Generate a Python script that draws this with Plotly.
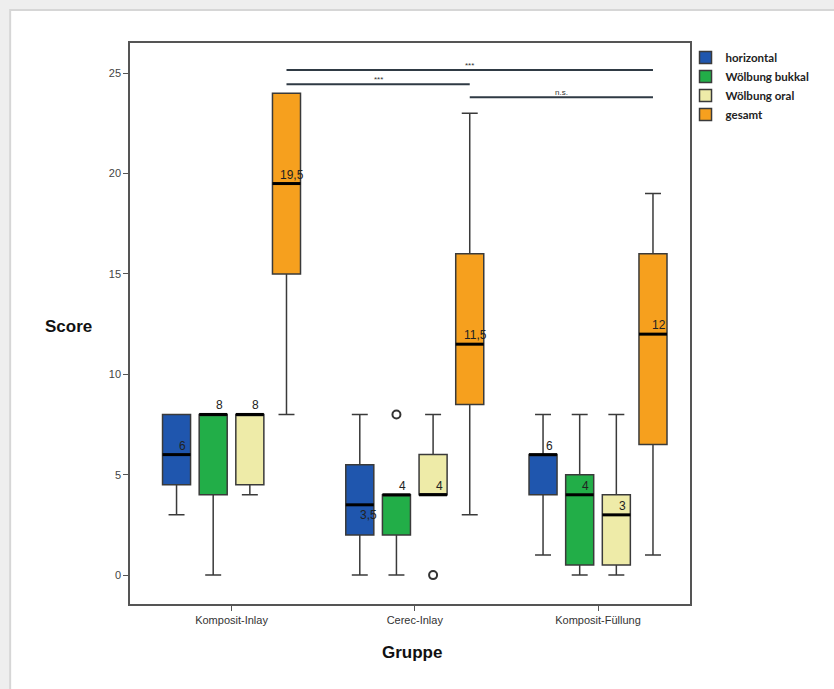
import plotly.graph_objects as go

# ---------------- data ----------------
groups = ["Komposit-Inlay", "Cerec-Inlay", "Komposit-Füllung"]
series = ["horizontal", "Wölbung bukkal", "Wölbung oral", "gesamt"]

lower = {
    "horizontal":     [3, 0, 1],
    "Wölbung bukkal": [0, 0, 0],
    "Wölbung oral":   [4, 4, 0],
    "gesamt":         [8, 3, 1],
}
q1 = {
    "horizontal":     [4.5, 2, 4],
    "Wölbung bukkal": [4, 2, 0.5],
    "Wölbung oral":   [4.5, 4, 0.5],
    "gesamt":         [15, 8.5, 6.5],
}
median = {
    "horizontal":     [6, 3.5, 6],
    "Wölbung bukkal": [8, 4, 4],
    "Wölbung oral":   [8, 4, 3],
    "gesamt":         [19.5, 11.5, 12],
}
q3 = {
    "horizontal":     [8, 5.5, 6],
    "Wölbung bukkal": [8, 4, 5],
    "Wölbung oral":   [8, 6, 4],
    "gesamt":         [24, 16, 16],
}
upper = {
    "horizontal":     [8, 8, 8],
    "Wölbung bukkal": [8, 4, 8],
    "Wölbung oral":   [8, 8, 8],
    "gesamt":         [24, 23, 19],
}
# outliers: (series, group index, value)
outliers = [("Wölbung bukkal", 1, 8), ("Wölbung oral", 1, 0)]

# significance brackets between "gesamt" boxes: (group a, group b, y, label)
significance = [(0, 2, 25.15, "***"), (0, 1, 24.45, "***"), (1, 2, 23.8, "n.s.")]

y_ticks = [0, 5, 10, 15, 20, 25]

# ---------------- styles ----------------
colors = {
    "horizontal": "#1F56AE",
    "Wölbung bukkal": "#22AE48",
    "Wölbung oral": "#EEEBA8",
    "gesamt": "#F6A01E",
}
offsets = [-0.3, -0.1, 0.1, 0.3]
box_w = 0.153
outline = "#3a3a3a"
ink = "#333333"


def fmt(v):
    return str(int(v)) if float(v).is_integer() else str(v).replace(".", ",")


fig = go.Figure()
shapes = []
annotations = []

for s, off in zip(series, offsets):
    xs = [j + off for j in range(len(groups))]
    fig.add_trace(go.Box(
        name=f"<b>{s}</b>",
        x=xs, q1=q1[s], median=median[s], q3=q3[s],
        lowerfence=lower[s], upperfence=upper[s],
        orientation="v", width=box_w, whiskerwidth=0.57,
        fillcolor=colors[s], line=dict(color=outline, width=1.5),
        boxpoints=False, hoverinfo="skip",
    ))
    for j, x in enumerate(xs):
        m = median[s][j]
        shapes.append(dict(type="line", xref="x", yref="y",
                           x0=x - box_w / 2, x1=x + box_w / 2, y0=m, y1=m,
                           line=dict(color="black", width=3), layer="above"))
        below = (s == "horizontal" and j == 1)
        annotations.append(dict(
            x=x, y=m, xref="x", yref="y", text=fmt(m), showarrow=False,
            xanchor="center", yanchor="top" if below else "bottom",
            xshift=9 if below else 6, yshift=-1 if below else 0,
            font=dict(family="Liberation Sans, Arial", size=12, color="#222"),
        ))

# outliers
fig.add_trace(go.Scatter(
    x=[g + offsets[series.index(s)] for s, g, v in outliers],
    y=[v for s, g, v in outliers],
    mode="markers", showlegend=False, hoverinfo="skip",
    marker=dict(symbol="circle-open", size=8, color=ink, line=dict(width=2, color=ink)),
))

# significance brackets
g_off = offsets[series.index("gesamt")]
for a, b, yv, lab in significance:
    x0, x1 = a + g_off, b + g_off
    shapes.append(dict(type="line", xref="x", yref="y", x0=x0, x1=x1, y0=yv, y1=yv,
                       line=dict(color="#2f3a44", width=2)))
    annotations.append(dict(x=(x0 + x1) / 2, y=yv, xref="x", yref="y", text=lab,
                            showarrow=False, yanchor="bottom", yshift=-2,
                            font=dict(family="Liberation Sans, Arial", size=8, color="#333")))

# page panel (white card on light gray)
shapes.insert(0, dict(type="rect", xref="paper", yref="paper",
                      x0=-0.214, x1=1.3, y0=-0.2, y1=1.059,
                      fillcolor="white", line=dict(color="#d6d6d6", width=2), layer="below"))

annotations.append(dict(x=-0.109, y=0.494, xref="paper", yref="paper", text="<b>Score</b>",
                        xanchor="center", yanchor="middle", showarrow=False,
                        font=dict(family="Liberation Sans, Arial", size=17, color="#111")))
annotations.append(dict(x=0.504, y=-0.086, xref="paper", yref="paper", text="<b>Gruppe</b>",
                        xanchor="center", yanchor="middle", showarrow=False,
                        font=dict(family="Liberation Sans, Arial", size=17, color="#111")))

fig.update_layout(
    width=834, height=689,
    margin=dict(l=130, r=144, t=43, b=85),
    paper_bgcolor="#eeeeee", plot_bgcolor="white",
    boxmode="overlay",
    shapes=shapes, annotations=annotations,
    showlegend=True,
    legend=dict(x=0.992, y=1.0, xanchor="left", yanchor="top",
                font=dict(family="Lato, Open Sans", size=11.5, color="#222"),
                bgcolor="rgba(0,0,0,0)", tracegroupgap=0, itemwidth=30),
    xaxis=dict(range=[-0.554, 2.502], tickmode="array",
               tickvals=list(range(len(groups))), ticktext=groups,
               ticks="outside", ticklen=5, tickcolor="#555",
               showline=True, mirror=True, linecolor="#555", linewidth=1.5,
               showgrid=False, zeroline=False,
               tickfont=dict(family="Liberation Sans, Arial", size=11, color="#333")),
    yaxis=dict(range=[-1.44, 26.5], tickmode="array", tickvals=y_ticks,
               ticks="outside", ticklen=5, tickcolor="#555",
               showline=True, mirror=True, linecolor="#555", linewidth=1.5,
               showgrid=False, zeroline=False,
               tickfont=dict(family="Liberation Sans, Arial", size=11, color="#444")),
)

fig.write_html("out.html", config={"displayModeBar": False},
               post_script="document.body.style.margin='0';document.body.style.background='#eeeeee';")
